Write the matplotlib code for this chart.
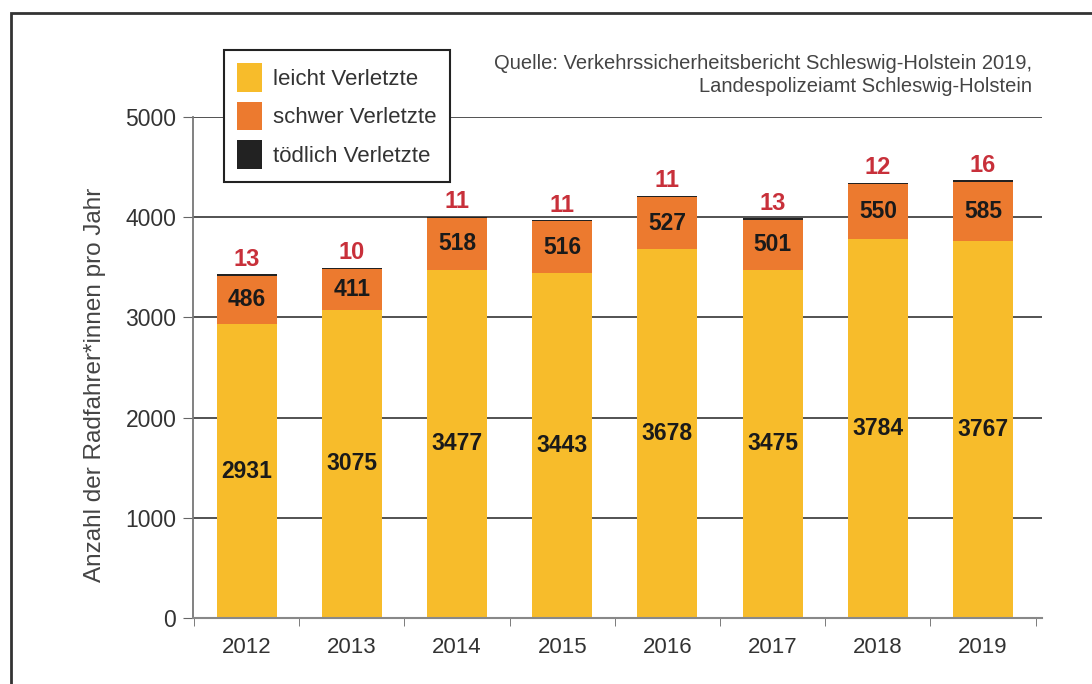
import matplotlib.pyplot as plt
from matplotlib.patches import Rectangle, Patch
import numpy as np

years = ["2012", "2013", "2014", "2015", "2016", "2017", "2018", "2019"]
leicht = [2931, 3075, 3477, 3443, 3678, 3475, 3784, 3767]
schwer = [486, 411, 518, 516, 527, 501, 550, 585]
toedlich = [13, 10, 11, 11, 11, 13, 12, 16]

c_leicht = "#F7BC2B"
c_schwer = "#EC7A2F"
c_tod = "#222222"
c_red = "#C8303A"

plt.rcParams['font.family'] = ['Liberation Sans', 'DejaVu Sans']

fig = plt.figure(figsize=(10.92, 6.84), dpi=100)
fig.patch.set_facecolor("white")

# outer frame
fig.add_artist(Rectangle((11 / 1092, -0.05), 1.2, 1 - 13 / 684 + 0.05,
                         transform=fig.transFigure, fill=False,
                         edgecolor="#333333", linewidth=2.0))

ax = fig.add_axes([193 / 1092, 1 - 618 / 684, (1042 - 193) / 1092, (618 - 117) / 684])
x = np.arange(len(years))
w = 0.57

l = np.array(leicht)
s = np.array(schwer)
t = np.array(toedlich)

ax.bar(x, l, w, color=c_leicht, zorder=2)
ax.bar(x, s, w, bottom=l, color=c_schwer, zorder=2)
ax.bar(x, t, w, bottom=l + s, color=c_tod, zorder=2)

for i in range(len(years)):
    ax.text(x[i], l[i] / 2, str(leicht[i]), ha="center", va="center",
            fontsize=16.5, fontweight="bold", color="#1a1a1a", zorder=3)
    ax.text(x[i], l[i] + s[i] / 2, str(schwer[i]), ha="center", va="center",
            fontsize=16.5, fontweight="bold", color="#1a1a1a", zorder=3)
    ax.text(x[i], l[i] + s[i] + t[i] + 35, str(toedlich[i]), ha="center", va="bottom",
            fontsize=17, fontweight="bold", color=c_red, zorder=3)

ax.set_xlim(-0.51, len(years) - 0.44)
ax.set_ylim(0, 5000)
ax.set_yticks([0, 1000, 2000, 3000, 4000, 5000])
ax.set_xticks(x)
ax.set_xticklabels(years)
ax.set_xticks(np.arange(-0.5, len(years)), minor=True)
ax.tick_params(axis="x", which="major", length=0, pad=14, labelsize=16, labelcolor="#333333")
ax.tick_params(axis="x", which="minor", length=6, color="#666666", direction="out")
ax.tick_params(axis="y", length=7, color="#666666", labelsize=16.5, labelcolor="#333333", pad=5)

ax.grid(axis="y", color="#444444", linewidth=1.3, zorder=0)
ax.set_axisbelow(True)
for side in ["top", "right"]:
    ax.spines[side].set_visible(False)
ax.spines["left"].set_color("#777777")
ax.spines["bottom"].set_color("#888888")
ax.spines["left"].set_linewidth(1.3)
ax.spines["bottom"].set_linewidth(1.5)

fig.text(95 / 1092, 1 - 385 / 684, "Anzahl der Radfahrer*innen pro Jahr", rotation=90,
         ha="center", va="center", fontsize=17.5, color="#444444")

handles = [Patch(facecolor=c_leicht, label="leicht Verletzte"),
           Patch(facecolor=c_schwer, label="schwer Verletzte"),
           Patch(facecolor=c_tod, label="tödlich Verletzte")]
leg = fig.legend(handles=handles, loc="upper left",
                 bbox_to_anchor=(224 / 1092, 1 - 50 / 684),
                 frameon=True, fancybox=False, fontsize=16,
                 handlelength=1.1, handleheight=1.6, handletextpad=0.5,
                 labelspacing=0.45, borderpad=0.6, borderaxespad=0,
                 labelcolor="#333333")
leg.get_frame().set_edgecolor("#222222")
leg.get_frame().set_linewidth(1.5)
leg.get_frame().set_alpha(1)

fig.text(1032 / 1092, 1 - 75 / 684, "Quelle: Verkehrssicherheitsbericht Schleswig-Holstein 2019,\nLandespolizeiamt Schleswig-Holstein",
         ha="right", va="center", fontsize=14.5, color="#444444", linespacing=1.3)

fig.savefig("out.png", dpi=100)
